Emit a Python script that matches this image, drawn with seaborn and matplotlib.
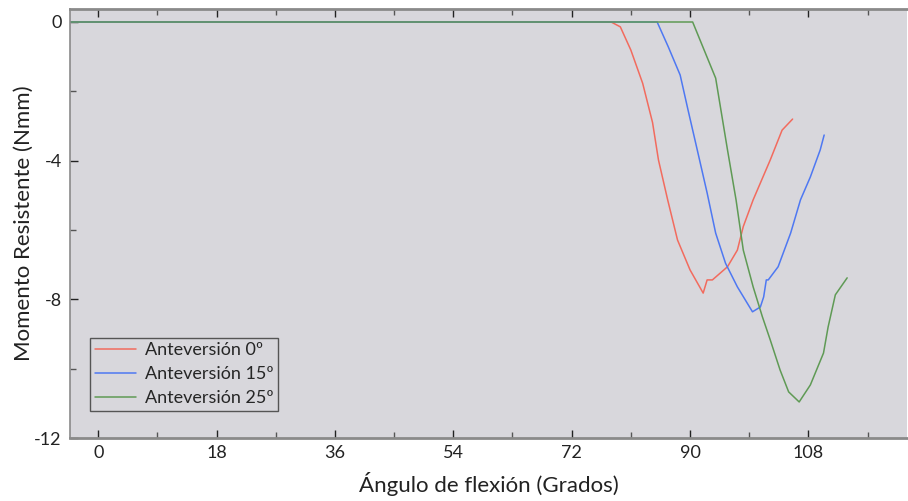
import matplotlib
matplotlib.use("Agg")
import matplotlib.pyplot as plt
import seaborn as sns
import pandas as pd
import numpy as np

# Data
x_ante0 = [-5, 78.0, 79.4, 81.0, 82.8, 84.3, 85.2, 86.6, 88.1, 90.0, 92.0, 92.6, 93.4,
           95.7, 97.2, 98.1, 99.6, 102.2, 104.0, 105.6]
y_ante0 = [0, 0, -0.14, -0.81, -1.77, -2.9, -3.98, -5.13, -6.29, -7.15, -7.82, -7.44, -7.44,
           -7.06, -6.58, -5.9, -5.13, -3.98, -3.12, -2.8]

x_ante15 = [-5, 85.0, 86.7, 88.5, 89.7, 91.1, 92.6, 93.9, 95.4, 97.2, 99.5, 100.7, 101.2,
            101.6, 101.9, 103.4, 105.3, 106.8, 108.3, 109.8, 110.4]
y_ante15 = [0, 0, -0.72, -1.53, -2.54, -3.69, -4.93, -6.09, -6.96, -7.64, -8.36, -8.22, -7.93,
            -7.44, -7.44, -7.06, -6.09, -5.13, -4.47, -3.69, -3.26]

x_ante25 = [-5, 90.4, 93.9, 95.7, 97.0, 98.1, 99.6, 101.0, 102.2, 103.7, 105.0, 106.6,
            108.3, 110.3, 111.0, 112.1, 113.9]
y_ante25 = [0, 0, -1.62, -3.69, -5.13, -6.58, -7.64, -8.5, -9.17, -10.04, -10.67, -10.96,
            -10.47, -9.55, -8.8, -7.87, -7.38]

labels = ["Anteversión 0º", "Anteversión 15º", "Anteversión 25º"]
x_ticks = [0, 18, 36, 54, 72, 90, 108]
y_ticks = [0, -4, -8, -12]

frames = []
for lab, xs, ys in zip(labels, [x_ante0, x_ante15, x_ante25], [y_ante0, y_ante15, y_ante25]):
    frames.append(pd.DataFrame({"x": xs, "y": ys, "serie": lab}))
df = pd.concat(frames, ignore_index=True)

sns.set_theme(style="white")
plt.rcParams['font.family'] = ['Lato', 'DejaVu Sans']

fig = plt.figure(figsize=(9.08, 5.01), dpi=100)
ax = fig.add_axes([70/908, 1-438/501, (907-70)/908, (438-9)/501])
ax.set_facecolor("#d8d7dc")

palette = {labels[0]: "#f26b5e", labels[1]: "#4e78f2", labels[2]: "#5f9a55"}
sns.lineplot(data=df, x="x", y="y", hue="serie", palette=palette, sort=False,
             estimator=None, linewidth=1.1, ax=ax)

ax.set_xlim(-4.3, 123.0)
ax.set_ylim(-12, 0.375)
ax.set_xticks(x_ticks)
ax.set_xticklabels([str(v) for v in x_ticks], fontsize=13)
ax.set_xticks(np.arange(9, 123, 18), minor=True)
ax.set_yticks(y_ticks)
ax.set_yticklabels([str(v) for v in y_ticks], fontsize=13)
ax.set_yticks([-2, -6, -10], minor=True)

ax.tick_params(axis="both", which="both", direction="in", color="#555555", width=1,
               top=True, bottom=True, left=True, right=False, pad=6)
ax.tick_params(axis="both", which="major", length=6)
ax.tick_params(axis="both", which="minor", length=4)
ax.tick_params(axis="x", labelsize=13, colors="#222222", pad=5)
ax.tick_params(axis="y", labelsize=13, colors="#222222")

for side in ["top", "bottom"]:
    ax.spines[side].set_color("#8a8a8a")
    ax.spines[side].set_linewidth(2)
ax.spines["left"].set_color("#8a8a8a")
ax.spines["left"].set_linewidth(1.2)
ax.spines["right"].set_visible(False)

ax.set_xlabel("Ángulo de flexión (Grados)", fontsize=16, color="#222222", labelpad=8)
ax.set_ylabel("Momento Resistente (Nmm)", fontsize=16, color="#222222", labelpad=0)

leg = ax.legend(loc="lower left", bbox_to_anchor=(0.024, 0.063), fontsize=13,
                frameon=True, fancybox=False, edgecolor="#555555", facecolor="#d8d7dc",
                handlelength=2.3, handletextpad=0.5, borderpad=0.25, labelspacing=0.45,
                borderaxespad=0, framealpha=1)
leg.get_frame().set_linewidth(1.0)

fig.savefig("out.png", dpi=100)
